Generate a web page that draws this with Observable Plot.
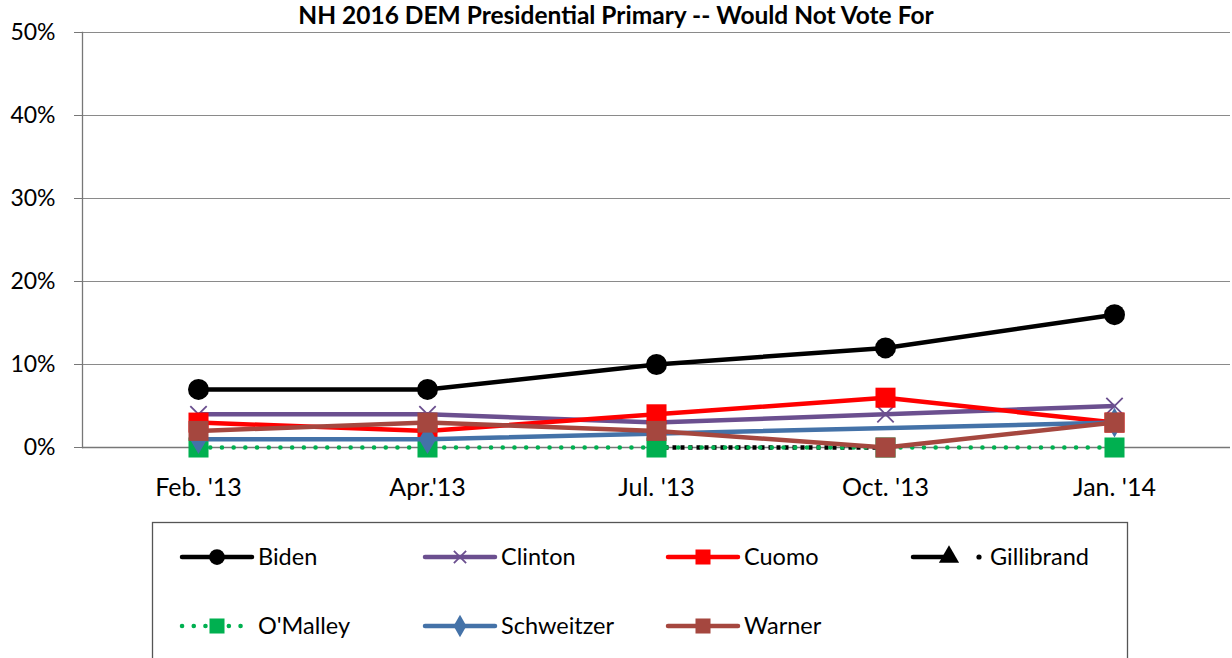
<!DOCTYPE html>
<html>
<head>
<meta charset="utf-8">
<script src="https://cdn.jsdelivr.net/npm/d3@7"></script>
<script src="https://cdn.jsdelivr.net/npm/@observablehq/plot@0.6"></script>
<style>
  html, body { margin: 0; padding: 0; background: #fff; }
  #wrap { position: relative; width: 1232px; height: 658px; overflow: hidden; font-family: Lato, sans-serif; }
  #title { position: absolute; left: 0; width: 1232px; top: 0px; text-align: center; font-weight: bold; font-size: 24.5px; color: #000; }
  #legend { position: absolute; left: 0; top: 0; }
</style>
</head>
<body>
<div id="wrap">
  <div id="chart"></div>
  <div id="title">NH 2016 DEM Presidential Primary -- Would Not Vote For</div>
  <svg id="legend" width="1232" height="658"></svg>
</div>
<script>
const dates = ["Feb. '13", "Apr.'13", "Jul. '13", "Oct. '13", "Jan. '14"];
const yTicks = [0, 10, 20, 30, 40, 50];
const seriesNames = ["Biden", "Clinton", "Cuomo", "Gillibrand", "O'Malley", "Schweitzer", "Warner"];
const biden      = [7, 7, 10, 12, 16];
const clinton    = [4, 4, 3, 4, 5];
const cuomo      = [3, 2, 4, 6, 3];
const gillibrand = [null, null, 0, 0, null];
const omalley    = [0, 0, 0, 0, 0];
const schweitzer = [1, 1, null, null, 3];
const warner     = [2, 3, 2, 0, 3];

const values = {Biden: biden, Clinton: clinton, Cuomo: cuomo, Gillibrand: gillibrand, "O'Malley": omalley, Schweitzer: schweitzer, Warner: warner};
const styles = {
  Biden:      {color: "#000000", symbol: "circle",   r: 10.5, fill: true,  dash: null},
  Clinton:    {color: "#6B4F8F", symbol: "times",    r: 7.5,  fill: false, dash: null},
  Cuomo:      {color: "#FF0000", symbol: "square",   r: 11.3, fill: true,  dash: null},
  Gillibrand: {color: "#000000", symbol: "triangle", r: 6,    fill: true,  dash: "4 4"},
  "O'Malley": {color: "#00B050", symbol: "square",   r: 11.3, fill: true,  dash: "0.1 11.6"},
  Schweitzer: {color: "#4472A8", symbol: "diamond",  r: 9,    fill: true,  dash: null},
  Warner:     {color: "#A5473F", symbol: "square",   r: 11.3, fill: true,  dash: null}
};

const table = [];
for (const s of seriesNames) {
  values[s].forEach((v, i) => { if (v != null) table.push({series: s, date: dates[i], value: v}); });
}

const marks = [
  Plot.ruleY(yTicks.filter(d => d > 0), {stroke: "#8a8a8a", strokeWidth: 1}),
  Plot.ruleY([0], {stroke: "#777", strokeWidth: 1.3}),
  Plot.frame({anchor: "left", stroke: "#777", strokeWidth: 1.3}),
  Plot.axisY({ticks: yTicks, tickFormat: d => d + "%", tickSize: 8, tickPadding: 19, fontSize: 23, stroke: "#777", color: "#000"}),
  Plot.axisX({tickSize: 0, tickPadding: 31, fontSize: 25, color: "#000"})
];
for (const s of seriesNames) {
  const st = styles[s];
  const d = table.filter(r => r.series === s);
  marks.push(Plot.line(d, {x: "date", y: "value", stroke: st.color, strokeWidth: 4.5,
    strokeDasharray: st.dash, strokeLinecap: st.dash && st.dash.startsWith("0.1") ? "round" : "butt", strokeLinejoin: "round"}));
  marks.push(Plot.dot(d, {x: "date", y: "value", symbol: () => st.symbol, r: st.r,
    fill: st.fill ? st.color : "none", stroke: st.color, strokeWidth: st.fill ? 0 : 1.8}));
}

const chart = Plot.plot({
  width: 1232, height: 658,
  marginLeft: 82, marginRight: 2, marginTop: 32, marginBottom: 211,
  x: {type: "point", domain: dates, padding: 0.5, label: null},
  y: {domain: [0, 50], label: null},
  style: {fontFamily: "Lato, sans-serif", background: "transparent"},
  marks
});
document.getElementById("chart").appendChild(chart);

// Legend
const lg = d3.select("#legend");
lg.append("rect").attr("x", 152.5).attr("y", 522.5).attr("width", 975).attr("height", 200)
  .attr("fill", "none").attr("stroke", "#555").attr("stroke-width", 1.3);
const cols = [182, 425, 668, 913];
const rows = [557, 626];
const symMap = {circle: d3.symbolCircle, square: d3.symbolSquare, diamond: d3.symbolDiamond, triangle: d3.symbolTriangle, times: d3.symbolX};
seriesNames.forEach((s, i) => {
  const st = styles[s];
  const x0 = cols[i % 4], y = rows[Math.floor(i / 4)];
  const g = lg.append("g");
  if (s === "Gillibrand") {
    g.append("line").attr("x1", x0).attr("x2", x0 + 35).attr("y1", y).attr("y2", y)
      .attr("stroke", st.color).attr("stroke-width", 4.5).attr("stroke-linecap", "round");
    g.append("path").attr("d", d3.symbol(d3.symbolTriangle, Math.PI * 7.5 * 7.5)()).attr("transform", `translate(${x0 + 36},${y})`).attr("fill", st.color);
    g.append("circle").attr("cx", x0 + 66).attr("cy", y).attr("r", 2.6).attr("fill", st.color);
  } else {
    g.append("line").attr("x1", x0).attr("x2", x0 + 70).attr("y1", y).attr("y2", y)
      .attr("stroke", st.color).attr("stroke-width", 4.5)
      .attr("stroke-dasharray", st.dash).attr("stroke-linecap", "round");
    const size = Math.PI * (st.r * 0.75) ** 2;
    const p = g.append("path").attr("d", d3.symbol(symMap[st.symbol], size)()).attr("transform", `translate(${x0 + 35},${y})`);
    if (st.fill) p.attr("fill", st.color); else p.attr("fill", "none").attr("stroke", st.color).attr("stroke-width", 1.8);
  }
  g.append("text").attr("x", s === "Gillibrand" ? x0 + 77 : x0 + 76).attr("y", y).attr("dy", "0.35em")
    .attr("font-family", "Lato, sans-serif").attr("font-size", 23.5).attr("fill", "#000").text(s);
});
</script>
</body>
</html>
